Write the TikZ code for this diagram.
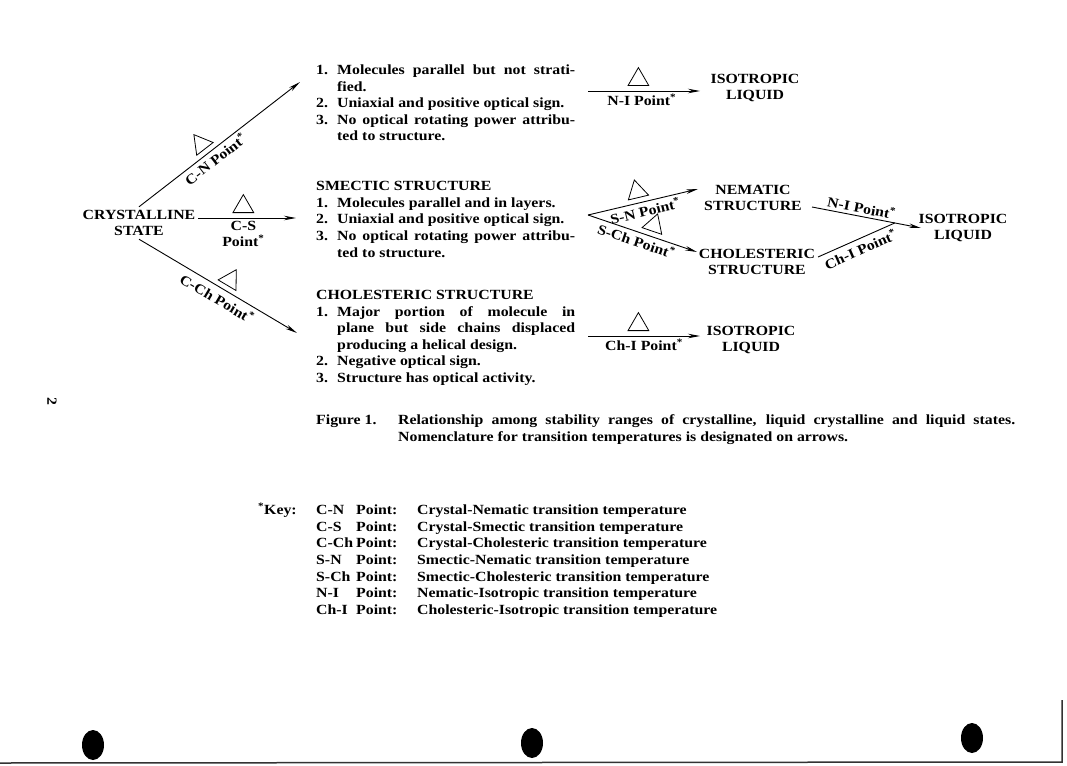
\documentclass[tikz,border=0pt]{standalone}
\usepackage{fontspec}
\setmainfont{Liberation Serif}[FakeStretch=1.13]
\usepackage{array}
\usetikzlibrary{shapes.geometric,arrows.meta,positioning,calc}

\tikzset{
  txt/.style={font=\bfseries\fontsize{14}{16.6}\selectfont, inner sep=0pt},
  state/.style={txt, align=center, inner sep=3pt},
  lbl/.style={txt, inner sep=1.5pt},
  arr/.style={line width=0.9pt, -{Stealth[length=12pt,width=4.5pt]}},
  tri/.style={regular polygon, regular polygon sides=3, draw, line width=0.8pt,
              minimum size=24pt, inner sep=0pt},
}
\newcommand{\jl}[1]{\makebox[\linewidth][s]{#1}}
\newcommand{\pnt}{Point\textsuperscript{*}}

\begin{document}
\begin{tikzpicture}[x=1pt,y=-1pt]
\useasboundingbox (0,0) rectangle (1067,765);

% states
\node[state] (cryst) at (139,223) {CRYSTALLINE\\STATE};
\node[state] (isotop) at (755,88) {ISOTROPIC\\LIQUID};
\node[state] (nem) at (753,198) {NEMATIC\\STRUCTURE};
\node[state] (chol) at (757,262) {CHOLESTERIC\\STRUCTURE};
\node[state] (isoright) at (963,228) {ISOTROPIC\\LIQUID};
\node[state] (isobot) at (751,340) {ISOTROPIC\\LIQUID};

% descriptions
\node[txt, anchor=base west] (nlist) at (316,74.6) {%
\begin{tabular}[t]{@{}p{21pt}@{}p{238pt}@{}}
1. & \jl{Molecules parallel but not strati-}\newline fied.\\
2. & Uniaxial and positive optical sign.\\
3. & \jl{No optical rotating power attribu-}\newline ted to structure.
\end{tabular}};
\node[txt, anchor=base west] (slist) at (316,190.6) {%
\begin{tabular}[t]{@{}p{21pt}@{}p{238pt}@{}}
\multicolumn{2}{@{}l@{}}{SMECTIC STRUCTURE}\\
1. & Molecules parallel and in layers.\\
2. & Uniaxial and positive optical sign.\\
3. & \jl{No optical rotating power attribu-}\newline ted to structure.
\end{tabular}};
\node[txt, anchor=base west] (chlist) at (316,299.4) {%
\begin{tabular}[t]{@{}p{21pt}@{}p{238pt}@{}}
\multicolumn{2}{@{}l@{}}{CHOLESTERIC STRUCTURE}\\
1. & \jl{Major portion of molecule in}\newline
     \jl{plane but side chains displaced}\newline producing a helical design.\\
2. & Negative optical sign.\\
3. & Structure has optical activity.
\end{tabular}};

% free ends of the arrows
\coordinate (cn-in) at (300,82);
\coordinate (cs-in) at (296,218);
\coordinate (cch-in) at (297,333);
\coordinate (nitop-s) at (588,91);
\coordinate (nitop-e) at (700,91);
\coordinate (split) at (588,215);
\coordinate (sn-in) at (698,189);
\coordinate (sch-in) at (697,252);
\coordinate (ni-s) at (812,207);
\coordinate (ni-e) at (921,228);
\coordinate (chi-s) at (818,257);
\coordinate (merge) at ($(ni-s)!0.76!(ni-e)$);
\coordinate (chibot-s) at (588,336);
\coordinate (chibot-e) at (700,336);

% crystal transitions
\draw[arr] (cryst.north) -- (cn-in)
  node[tri, sloped, pos=0.43, above=5pt] (cn-tri) {}
  node[lbl, sloped, pos=0.44, below=1pt] {C-N \pnt};
\draw[arr] (cryst.east |- cs-in) -- (cs-in)
  node[tri, pos=0.46, above=5pt] (cs-tri) {}
  node[lbl, pos=0.46, below=1pt, align=center] {C-S\\\pnt};
\draw[arr] (cryst.south) -- (cch-in)
  node[tri, sloped, pos=0.54, above=5pt] (cch-tri) {}
  node[lbl, sloped, pos=0.53, below=3pt] {C-Ch \pnt};

% nematic to isotropic
\draw[arr] (nitop-s) -- (nitop-e)
  node[tri, pos=0.45, above=5pt] (ni-tri) {}
  node[lbl, pos=0.48, below=1pt] {N-I \pnt};

% smectic transitions
\draw[arr] (split) -- (sn-in)
  node[tri, sloped, pos=0.47, above=5pt] (sn-tri) {}
  node[lbl, sloped, pos=0.5, below=1pt] {S-N \pnt};
\draw[arr] (split) -- (sch-in)
  node[tri, sloped, pos=0.57, above=5pt] (sch-tri) {}
  node[lbl, sloped, pos=0.47, below=1pt] {S-Ch \pnt};
\draw[arr] (ni-s) -- (ni-e)
  node[lbl, sloped, pos=0.44, above=1pt] {N-I \pnt};
\draw[line width=0.9pt] (chi-s) -- (merge)
  node[lbl, sloped, pos=0.5, below=2pt] {Ch-I \pnt};

% cholesteric to isotropic
\draw[arr] (chibot-s) -- (chibot-e)
  node[tri, pos=0.45, above=5pt] (chi-tri) {}
  node[lbl, pos=0.5, below=1pt] {Ch-I \pnt};

% caption and key
\node[txt, anchor=base west] (cap) at (316,424.6) {%
\begin{tabular}[t]{@{}p{82pt}@{}p{617pt}@{}}
Figure 1. & \jl{Relationship among stability ranges of crystalline, liquid crystalline and liquid states.}\newline
Nomenclature for transition temperatures is designated on arrows.
\end{tabular}};
\node[txt, anchor=base west] (keytab) at (258,514.6) {%
\begin{tabular}[t]{@{}p{58pt}@{}p{40pt}@{}p{61pt}@{}l@{}}
\textsuperscript{*}Key: & C-N & Point: & Crystal-Nematic transition temperature\\
 & C-S & Point: & Crystal-Smectic transition temperature\\
 & C-Ch & Point: & Crystal-Cholesteric transition temperature\\
 & S-N & Point: & Smectic-Nematic transition temperature\\
 & S-Ch & Point: & Smectic-Cholesteric transition temperature\\
 & N-I & Point: & Nematic-Isotropic transition temperature\\
 & Ch-I & Point: & Cholesteric-Isotropic transition temperature
\end{tabular}};

% page number, punch holes and page edge
\node[txt, rotate=-90] (pgno) at (52,401) {2};
\fill (93,745) ellipse [x radius=11, y radius=15];
\fill (532,743) ellipse [x radius=11, y radius=15];
\fill (972,738) ellipse [x radius=11, y radius=15];
\draw[line width=1.5pt, black!80] (0,763) -- (1062,762) -- (1062,700);
\end{tikzpicture}
\end{document}
